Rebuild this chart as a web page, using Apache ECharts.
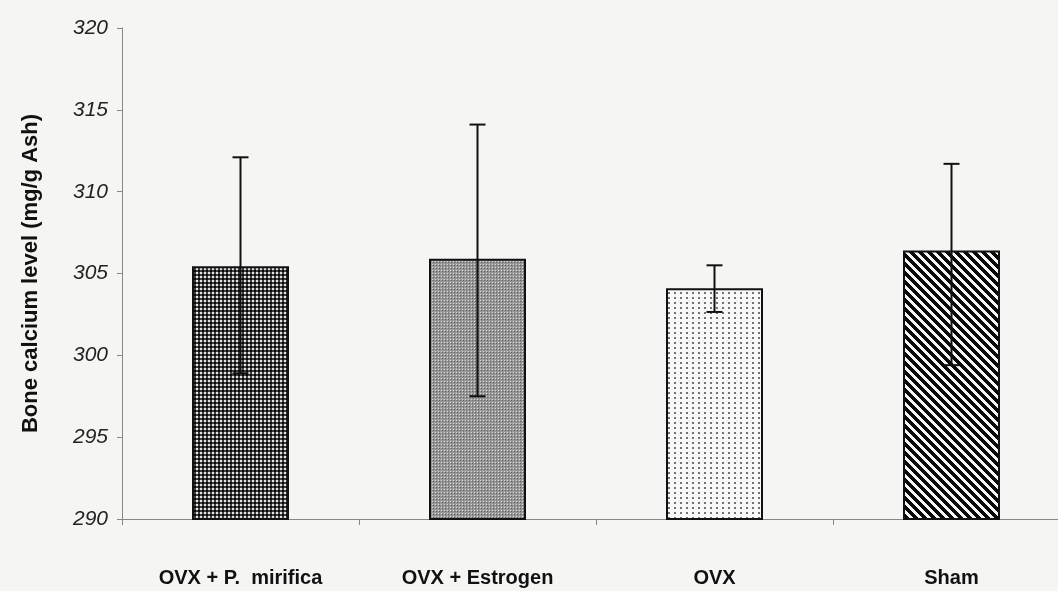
<!DOCTYPE html>
<html>
<head>
<meta charset="utf-8">
<script src="https://cdn.jsdelivr.net/npm/echarts@6/dist/echarts.min.js"></script>
<style>
html,body{margin:0;padding:0;background:#f5f5f3;overflow:hidden;width:1058px;height:591px;}
#chart{width:1070px;height:591px;}
</style>
</head>
<body>
<div id="chart"></div>
<script>
const categories = ['OVX + P.  mirifica', 'OVX + Estrogen', 'OVX', 'Sham'];
const means = [305.45, 305.9, 304.1, 306.4];
const errUpper = [312.1, 314.1, 305.5, 311.7];
const errLower = [298.9, 297.5, 302.65, 299.4];
const yTicks = [290, 295, 300, 305, 310, 315, 320];

function makePattern(w, h, fn) {
  const c = document.createElement('canvas');
  c.width = w; c.height = h;
  const ctx = c.getContext('2d');
  const img = ctx.createImageData(w, h);
  for (let y = 0; y < h; y++) {
    for (let x = 0; x < w; x++) {
      const v = fn(x, y);
      const i = (y * w + x) * 4;
      img.data[i] = v; img.data[i + 1] = v; img.data[i + 2] = v; img.data[i + 3] = 255;
    }
  }
  ctx.putImageData(img, 0, 0);
  return c;
}
// dense dark checker
const pat1 = makePattern(4, 4, (x, y) => {
  const a = x < 2, b = y < 2;
  if (a && b) return 225;
  if (!a && !b) return 10;
  return 65;
});
// fine gray dotted
const pat2 = makePattern(3, 3, (x, y) => {
  if (x === 0 && y === 0) return 220;
  if (x === 1 && y === 1) return 95;
  return 150;
});
// sparse dots on white
const pat3 = makePattern(6, 5, (x, y) => {
  if ((x === 2 || x === 3) && (y === 2 || y === 3)) return 115;
  return 248;
});
// diagonal stripes "\"
const pat4 = makePattern(9, 9, (x, y) => {
  const d = ((x - y) % 9 + 9) % 9;
  return d < 5 ? 10 : 245;
});
const patterns = [pat1, pat2, pat3, pat4];

const chart = echarts.init(document.getElementById('chart'), null, {renderer: 'canvas'});
chart.setOption({
  backgroundColor: '#f5f5f3',
  animation: false,
  grid: {left: 122, top: 28, right: 0, bottom: 72},
  xAxis: {
    type: 'category',
    data: categories,
    axisLine: {lineStyle: {color: '#888', width: 1}},
    axisTick: {show: true, length: 6, lineStyle: {color: '#888'}},
    axisLabel: {
      margin: 49,
      color: '#111',
      fontFamily: 'Liberation Sans, Arial, sans-serif',
      fontWeight: 'bold',
      fontSize: 20
    }
  },
  yAxis: {
    type: 'value',
    min: 290, max: 320, interval: 5,
    name: 'Bone calcium level (mg/g Ash)',
    nameLocation: 'middle',
    nameGap: 80,
    nameTextStyle: {
      color: '#111',
      fontFamily: 'Liberation Sans, Arial, sans-serif',
      fontWeight: 'bold',
      fontSize: 22
    },
    axisLine: {show: true, lineStyle: {color: '#888', width: 1}},
    axisTick: {show: true, length: 5, lineStyle: {color: '#888'}},
    splitLine: {show: false},
    axisLabel: {
      margin: 14,
      color: '#222',
      fontStyle: 'italic',
      fontFamily: 'Liberation Sans, Arial, sans-serif',
      fontSize: 21,
      formatter: v => yTicks.includes(v) ? String(v) : ''
    }
  },
  series: [
    {
      type: 'bar',
      barWidth: 97,
      data: means.map((v, i) => ({
        value: v,
        itemStyle: {
          color: {image: patterns[i], repeat: 'repeat'},
          borderColor: '#111',
          borderWidth: 2
        }
      })),
      z: 2
    },
    {
      type: 'custom',
      z: 5,
      data: categories.map((c, i) => [i, errLower[i], errUpper[i]]),
      renderItem: function (params, api) {
        const idx = api.value(0);
        const lo = api.coord([idx, api.value(1)]);
        const hi = api.coord([idx, api.value(2)]);
        const hw = 8;
        const style = {stroke: '#111', lineWidth: 2};
        return {
          type: 'group',
          children: [
            {type: 'line', shape: {x1: hi[0], y1: hi[1], x2: lo[0], y2: lo[1]}, style: style},
            {type: 'line', shape: {x1: hi[0] - hw, y1: hi[1], x2: hi[0] + hw, y2: hi[1]}, style: style},
            {type: 'line', shape: {x1: lo[0] - hw, y1: lo[1], x2: lo[0] + hw, y2: lo[1]}, style: style}
          ]
        };
      }
    }
  ]
});
</script>
</body>
</html>
